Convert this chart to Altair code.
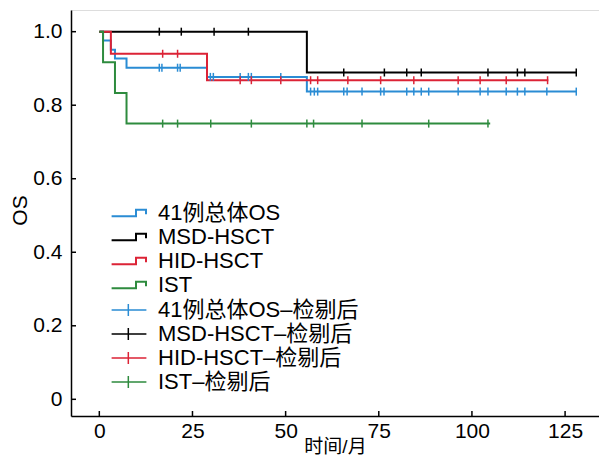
import altair as alt
import pandas as pd

# ---------------- data ----------------
names = ["41例总体OS", "MSD-HSCT", "HID-HSCT", "IST"]
cens_names = ["41例总体OS–检剔后", "MSD-HSCT–检剔后", "HID-HSCT–检剔后", "IST–检剔后"]
colors = ["#2a8cd4", "#000000", "#dc2336", "#2e8b3e"]

# Kaplan-Meier steps (time in months, survival)
all_t = [0, 1.0, 3.1, 4.2, 7.3, 28.9, 55.7, 128.0]
all_s = [1.0, 0.976, 0.951, 0.927, 0.902, 0.877, 0.837, 0.837]
msd_t = [0, 55.7, 128.0]
msd_s = [1.0, 0.889, 0.889]
hid_t = [0, 3.1, 28.9, 120.5]
hid_s = [1.0, 0.940, 0.868, 0.868]
ist_t = [0, 1.0, 4.2, 7.3, 104.9]
ist_s = [1.0, 0.917, 0.833, 0.750, 0.750]

# censored times
all_c = [16.1, 16.8, 21.0, 21.7, 29.8, 30.6, 37.8, 40.0, 40.8, 48.7,
         56.7, 57.7, 58.6, 65.6, 66.5, 70.5, 75.5, 76.4, 82.5, 84.4, 86.4, 88.4,
         96.3, 102.2, 104.3, 109.2, 112.2, 114.2, 120.1, 128.0]
msd_c = [16.1, 22.0, 30.8, 40.0, 65.6, 76.5, 82.5, 86.4, 104.3, 112.2, 114.2, 128.0]
hid_c = [17.0, 21.0, 37.8, 40.8, 48.7, 56.7, 58.6, 66.7, 75.5, 84.4, 96.3,
         102.2, 109.2, 120.3]
ist_c = [17.0, 21.0, 29.9, 40.8, 55.7, 57.5, 70.5, 88.4, 104.3]

x_ticks = [0, 25, 50, 75, 100, 125]
y_ticks = [0, 0.2, 0.4, 0.6, 0.8, 1.0]

# ---------------- tables ----------------
curves = [(all_t, all_s, all_c), (msd_t, msd_s, msd_c), (hid_t, hid_s, hid_c), (ist_t, ist_s, ist_c)]
line_rows, cens_rows = [], []
for k, (tt, ss, cc) in enumerate(curves):
    for i, (t, s) in enumerate(zip(tt, ss)):
        line_rows.append({"series": names[k], "t": t, "s": s, "i": i})
    for c in cc:
        lvl = ss[0]
        for t, s in zip(tt, ss):
            if t <= c:
                lvl = s
        cens_rows.append({"series": cens_names[k], "t": c, "s": lvl})
line_df = pd.DataFrame(line_rows)
cens_df = pd.DataFrame(cens_rows)
xt_df = pd.DataFrame({"t": x_ticks})
yt_df = pd.DataFrame({"s": y_ticks})

FONT = "Liberation Sans, Noto Sans CJK SC, sans-serif"
W, H = 528, 406

xs = alt.Scale(domain=[-7.6, 134.1], nice=False, zero=False)
ys = alt.Scale(domain=[-0.0454, 1.059], nice=False, zero=False)

xaxis = alt.Axis(values=x_ticks, ticks=False, grid=False, labelFontSize=21, labelFont=FONT,
                 labelColor="black", labelPadding=4, domainColor="black", domainWidth=1.5,
                 title="时间/月", titleFont=FONT, titleFontSize=19, titleFontWeight="normal",
                 titleColor="black", titleY=30, titleBaseline="middle", labelFlush=False)
yaxis = alt.Axis(values=y_ticks, ticks=False, grid=False, labelFontSize=21, labelFont=FONT,
                 labelColor="black", labelPadding=9, domainColor="black", domainWidth=1.5,
                 labelExpr="datum.value == 0 ? '0' : format(datum.value, '.1f')",
                 title="OS", titleFont=FONT, titleFontSize=21, titleFontWeight="normal",
                 titleColor="black", titleX=-51, titleY=200, titleBaseline="middle", labelFlush=False)

X = alt.X("t:Q", scale=xs, axis=xaxis, title="时间/月")
Y = alt.Y("s:Q", scale=ys, axis=yaxis, title="OS")

step_path = "M-3.3,0.41L-0.25,0.41L-0.25,-0.42L1,-0.42L1,0.16"
plus_path = "M-3.3,0L1.05,0M-1.21,-0.75L-1.21,0.75"
vtick_path = "M0,-1L0,1"

leg_common = dict(orient="none", title=None, symbolSize=256, labelFontSize=22, labelFont=FONT,
                  labelColor="black", labelLimit=400, rowPadding=2, labelOffset=9, padding=0,
                  symbolFillColor="transparent")

lines = alt.Chart(line_df).mark_line(interpolate="step-after", strokeWidth=2).encode(
    x=X, y=Y,
    color=alt.Color("series:N", scale=alt.Scale(domain=names, range=colors), sort=names,
                    legend=alt.Legend(symbolType=step_path, symbolStrokeWidth=2,
                                      legendX=56, legendY=192, **leg_common)),
    order="i:Q",
)

cens = alt.Chart(cens_df).mark_point(shape=vtick_path, size=64, strokeWidth=1.5,
                                     filled=False, opacity=1).encode(
    x=X, y=Y,
    stroke=alt.Stroke("series:N", scale=alt.Scale(domain=cens_names, range=colors), sort=cens_names,
                      legend=alt.Legend(symbolType=plus_path, symbolStrokeWidth=1.5,
                                        legendX=56, legendY=289, **leg_common)),
)

xtick = alt.Chart(xt_df).mark_rule(color="black", strokeWidth=1.5).encode(
    x=X, y=alt.value(H), y2=alt.value(H - 5))
ytick = alt.Chart(yt_df).mark_rule(color="black", strokeWidth=1.5).encode(
    y=Y, x=alt.value(0), x2=alt.value(5))

chart = alt.layer(lines, cens, xtick, ytick).properties(
    width=W, height=H,
    padding={"left": 63, "top": 2, "right": 0, "bottom": 41},
    autosize=alt.AutoSizeParams(type="none"),
).configure_view(stroke=None).configure(background="white")

chart.save("out.html", embed_options={"renderer": "svg", "actions": False})
